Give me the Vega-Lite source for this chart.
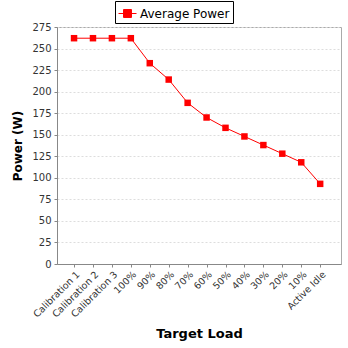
{
  "$schema": "https://vega.github.io/schema/vega-lite/v6.json",
  "autosize": "none",
  "width": 284,
  "height": 237,
  "padding": {"left": 57, "top": 27, "right": 7, "bottom": 84},
  "background": "white",
  "data": {
    "values": [
      {"load": "Calibration 1", "power": 262, "series": "Average Power"},
      {"load": "Calibration 2", "power": 262, "series": "Average Power"},
      {"load": "Calibration 3", "power": 262, "series": "Average Power"},
      {"load": "100%", "power": 262, "series": "Average Power"},
      {"load": "90%", "power": 233, "series": "Average Power"},
      {"load": "80%", "power": 214, "series": "Average Power"},
      {"load": "70%", "power": 187, "series": "Average Power"},
      {"load": "60%", "power": 170, "series": "Average Power"},
      {"load": "50%", "power": 158, "series": "Average Power"},
      {"load": "40%", "power": 148, "series": "Average Power"},
      {"load": "30%", "power": 138, "series": "Average Power"},
      {"load": "20%", "power": 128, "series": "Average Power"},
      {"load": "10%", "power": 118, "series": "Average Power"},
      {"load": "Active Idle", "power": 93, "series": "Average Power"}
    ]
  },
  "config": {
    "font": "DejaVu Sans",
    "view": {"stroke": "#aaaaaa", "strokeWidth": 1},
    "axis": {
      "labelFont": "DejaVu Sans",
      "labelFontSize": 10,
      "labelColor": "#333333",
      "titleFont": "DejaVu Sans",
      "titleFontWeight": "bold",
      "titleColor": "#000000",
      "domainColor": "#888888",
      "tickColor": "#888888",
      "tickSize": 3
    }
  },
  "encoding": {
    "x": {
      "field": "load",
      "type": "ordinal",
      "sort": null,
      "scale": {"type": "point", "padding": 1.1, "align": 0.45},
      "axis": {
        "title": "Target Load",
        "titleFontSize": 13,
        "titlePadding": 9,
        "labelAngle": -45,
        "labelAlign": "right",
        "labelBaseline": "top",
        "labelFontSize": 9.5,
        "labelPadding": 2,
        "grid": false
      }
    },
    "y": {
      "field": "power",
      "type": "quantitative",
      "scale": {"domain": [0, 275], "nice": false},
      "axis": {
        "title": "Power (W)",
        "titleFontSize": 12,
        "titlePadding": 7,
        "values": [0, 25, 50, 75, 100, 125, 150, 175, 200, 225, 250, 275],
        "grid": true,
        "gridColor": "#dddddd",
        "gridDash": [2, 2],
        "labelPadding": 3
      }
    },
    "color": {
      "field": "series",
      "type": "nominal",
      "scale": {"domain": ["Average Power"], "range": ["#ff0000"]},
      "legend": {
        "title": null,
        "orient": "none",
        "legendX": 58,
        "legendY": -26,
        "strokeColor": "#000000",
        "padding": 3,
        "labelFont": "DejaVu Sans",
        "labelFontSize": 12,
        "labelColor": "#000000",
        "symbolType": "M-1,0H1M-0.44,-0.44H0.44V0.44H-0.44Z",
        "symbolSize": 324,
        "symbolStrokeWidth": 1,
        "symbolFillColor": "#ff0000",
        "symbolStrokeColor": "#ff0000",
        "labelOffset": 3
      }
    }
  },
  "layer": [
    {"mark": {"type": "line", "strokeWidth": 1}},
    {"mark": {"type": "point", "shape": "square", "filled": true, "size": 42, "opacity": 1}}
  ]
}
